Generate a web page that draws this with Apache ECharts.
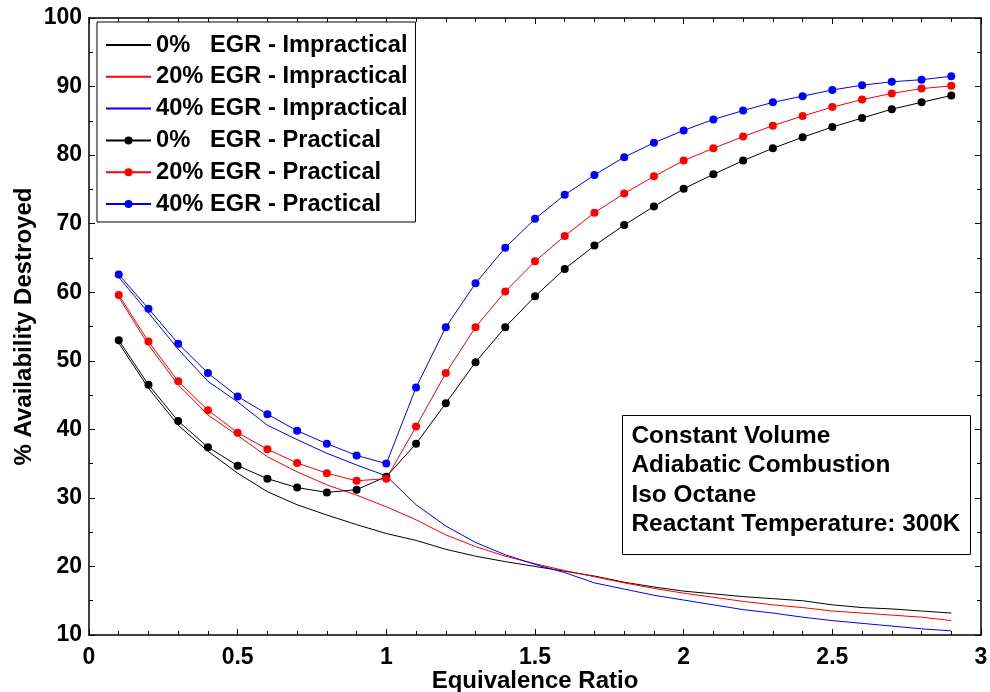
<!DOCTYPE html>
<html>
<head>
<meta charset="utf-8">
<script src="https://cdn.jsdelivr.net/npm/echarts@6/dist/echarts.min.js"></script>
<style>
html,body{margin:0;padding:0;background:#fff;}
#chart{width:990px;height:692px;}
</style>
</head>
<body>
<div id="chart"></div>
<script>
// Equivalence ratio values
var phi = [0.1,0.2,0.3,0.4,0.5,0.6,0.7,0.8,0.9,1.0,1.1,1.2,1.3,1.4,1.5,1.6,1.7,1.8,1.9,2.0,2.1,2.2,2.3,2.4,2.5,2.6,2.7,2.8,2.9];

// Impractical (lines only)
var imp0  = [52.6,46.0,40.6,36.8,33.6,30.9,29.0,27.5,26.1,24.8,23.8,22.5,21.5,20.7,20.0,19.3,18.6,17.7,17.0,16.4,16.0,15.6,15.3,15.0,14.4,14.0,13.8,13.5,13.2];
var imp20 = [59.3,52.3,46.5,42.1,39.1,36.0,33.8,31.9,30.4,28.7,26.8,24.6,22.9,21.5,20.4,19.4,18.5,17.6,16.8,16.1,15.5,14.9,14.4,14.0,13.5,13.2,12.9,12.6,12.1];
var imp40 = [62.2,57.0,51.7,47.0,44.0,40.6,38.5,36.5,34.8,33.2,29.0,25.9,23.5,21.7,20.3,19.1,17.6,16.7,15.8,15.1,14.4,13.7,13.2,12.6,12.1,11.7,11.3,10.9,10.6];

// Practical (lines with markers)
var pr0  = [53.0,46.5,41.2,37.4,34.7,32.8,31.5,30.8,31.2,33.1,37.9,43.8,49.8,54.9,59.4,63.4,66.8,69.8,72.5,75.1,77.2,79.2,81.0,82.6,84.1,85.4,86.7,87.7,88.7];
var pr20 = [59.6,52.8,47.0,42.8,39.5,37.1,35.1,33.6,32.5,32.8,40.4,48.2,54.9,60.1,64.5,68.2,71.6,74.4,76.9,79.2,81.0,82.7,84.3,85.7,87.0,88.1,89.0,89.7,90.1];
var pr40 = [62.6,57.6,52.5,48.2,44.8,42.2,39.8,37.9,36.2,35.0,46.1,54.9,61.3,66.5,70.7,74.2,77.1,79.7,81.8,83.6,85.2,86.5,87.7,88.6,89.5,90.2,90.7,91.0,91.5];

var seriesNames = ['0%   EGR - Impractical','20% EGR - Impractical','40% EGR - Impractical',
                   '0%   EGR - Practical','20% EGR - Practical','40% EGR - Practical'];
var annotationLines = ['Constant Volume','Adiabatic Combustion','Iso Octane','Reactant Temperature: 300K'];
var xTitle = 'Equivalence Ratio';
var yTitle = '% Availability Destroyed';

function pairs(ys){ return phi.map(function(x,i){ return [x, ys[i]]; }); }

var FONT = '"Liberation Sans", Arial, sans-serif';

function lineSeries(name, ys, color, marker){
  return {
    name: name, type: 'line', data: pairs(ys),
    symbol: marker ? 'circle' : 'none', symbolSize: 8, showSymbol: marker,
    itemStyle: {color: color},
    lineStyle: {color: color, width: 1},
    animation: false, z: marker ? 3 : 2
  };
}

var axisCommon = {
  axisLine: {show: true, onZero: false, lineStyle: {color: '#000', width: 1.5}},
  axisTick: {show: true, inside: true, length: 6, lineStyle: {color: '#000'}},
  minorTick: {show: true, length: 4, lineStyle: {color: '#000'}},
  splitLine: {show: false}
};

var legendData = seriesNames.map(function(n, i){
  return i < 3 ? {name: n, itemStyle: {opacity: 0}} : {name: n};
});

var chart = echarts.init(document.getElementById('chart'), null, {renderer: 'canvas'});
chart.setOption({
  backgroundColor: '#fff',
  animation: false,
  grid: {left: 89, right: 9, top: 18, bottom: 57, containLabel: false, outerBoundsMode: 'none'},
  xAxis: [
    Object.assign({}, axisCommon, {
      type: 'value', min: 0, max: 3, interval: 0.5, position: 'bottom',
      minorTick: Object.assign({}, axisCommon.minorTick, {splitNumber: 5}),
      axisLabel: {color: '#000', fontFamily: FONT, fontWeight: 'bold', fontSize: 23, margin: 11,
        formatter: function(v){ return String(+v.toFixed(1)); }},
      name: xTitle, nameLocation: 'middle', nameGap: 34, nameMoveOverlap: false,
      nameTextStyle: {color: '#000', fontFamily: FONT, fontWeight: 'bold', fontSize: 24}
    }),
    Object.assign({}, axisCommon, {
      type: 'value', min: 0, max: 3, interval: 0.5, position: 'top',
      minorTick: Object.assign({}, axisCommon.minorTick, {splitNumber: 5}),
      axisLabel: {show: false}
    })
  ],
  yAxis: [
    Object.assign({}, axisCommon, {
      type: 'value', min: 10, max: 100, interval: 10, position: 'left',
      minorTick: Object.assign({}, axisCommon.minorTick, {splitNumber: 2}),
      axisLabel: {color: '#000', fontFamily: FONT, fontWeight: 'bold', fontSize: 23, margin: 7},
      name: yTitle, nameLocation: 'middle', nameGap: 53, nameRotate: 90, nameMoveOverlap: false,
      nameTextStyle: {color: '#000', fontFamily: FONT, fontWeight: 'bold', fontSize: 24}
    }),
    Object.assign({}, axisCommon, {
      type: 'value', min: 10, max: 100, interval: 10, position: 'right',
      minorTick: Object.assign({}, axisCommon.minorTick, {splitNumber: 2}),
      axisLabel: {show: false}
    })
  ],
  legend: {
    orient: 'vertical', left: 97, top: 22,
    data: legendData,
    itemWidth: 45, itemHeight: 10, itemGap: 7.8,
    backgroundColor: '#fff', borderColor: '#000', borderWidth: 1,
    padding: [11, 8, 6, 8],
    selectedMode: false,
    textStyle: {
      color: '#000', fontFamily: FONT, fontWeight: 'bold', fontSize: 23.7, lineHeight: 24,
      rich: {
        p: {width: 54, color: '#000', fontFamily: FONT, fontWeight: 'bold', fontSize: 23.7},
        r: {color: '#000', fontFamily: FONT, fontWeight: 'bold', fontSize: 23.7}
      }
    },
    formatter: function(name){
      var idx = name.indexOf('EGR');
      return '{p|' + name.slice(0, idx).trim() + '}{r|' + name.slice(idx) + '}';
    }
  },
  graphic: [{
    type: 'group', left: 622, top: 415,
    children: [
      {type: 'rect', shape: {x: 0, y: 0, width: 348, height: 139},
       style: {fill: '#fff', stroke: '#000', lineWidth: 1}},
      {type: 'text', x: 9, y: 6,
       style: {text: annotationLines.join('\n'), fill: '#000', font: 'bold 24.4px ' + FONT, lineHeight: 29.4}}
    ]
  }],
  series: [
    lineSeries(seriesNames[0], imp0, '#000000', false),
    lineSeries(seriesNames[1], imp20, '#ff0000', false),
    lineSeries(seriesNames[2], imp40, '#0000ff', false),
    lineSeries(seriesNames[3], pr0, '#000000', true),
    lineSeries(seriesNames[4], pr20, '#ff0000', true),
    lineSeries(seriesNames[5], pr40, '#0000ff', true)
  ]
});
</script>
</body>
</html>
